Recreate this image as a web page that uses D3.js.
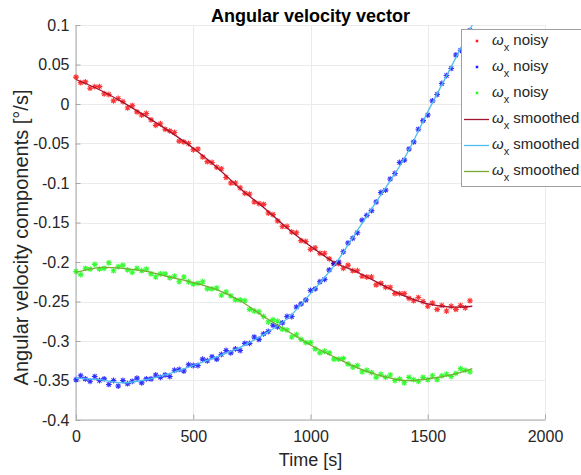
<!DOCTYPE html>
<html>
<head>
<meta charset="utf-8">
<script src="https://cdn.jsdelivr.net/npm/d3@7"></script>
<style>
  html, body { margin: 0; padding: 0; background: #fff; }
  svg { display: block; font-family: "Liberation Sans", Arial, Helvetica, sans-serif; }
</style>
</head>
<body>
<svg id="chart" width="581" height="475"></svg>
<script>
// ---------------- DATA ----------------
const timeNoisy = [0,20,40,60,80,100,120,140,160,180,200,220,240,260,280,300,320,340,360,380,400,420,440,460,480,500,520,540,560,580,600,620,640,660,680,700,720,740,760,780,800,820,840,860,880,900,920,940,960,980,1000,1020,1040,1060,1080,1100,1120,1140,1160,1180,1200,1220,1240,1260,1280,1300,1320,1340,1360,1380,1400,1420,1440,1460,1480,1500,1520,1540,1560,1580,1600,1620,1640,1660,1680];

const redNoisy = [0.034,0.027,0.028,0.020,0.022,0.022,0.013,0.012,0.004,0.007,0.003,-0.005,-0.002,-0.010,-0.014,-0.012,-0.020,-0.027,-0.025,-0.032,-0.034,-0.036,-0.047,-0.048,-0.050,-0.058,-0.057,-0.067,-0.073,-0.074,-0.080,-0.082,-0.093,-0.100,-0.100,-0.106,-0.113,-0.114,-0.124,-0.126,-0.127,-0.138,-0.140,-0.148,-0.155,-0.155,-0.162,-0.163,-0.173,-0.174,-0.184,-0.182,-0.189,-0.189,-0.196,-0.202,-0.202,-0.208,-0.204,-0.211,-0.211,-0.218,-0.219,-0.219,-0.229,-0.227,-0.232,-0.232,-0.240,-0.240,-0.240,-0.246,-0.249,-0.245,-0.250,-0.256,-0.252,-0.260,-0.255,-0.262,-0.256,-0.260,-0.255,-0.258,-0.249];

const blueNoisy = [-0.349,-0.344,-0.348,-0.351,-0.345,-0.350,-0.348,-0.355,-0.350,-0.357,-0.350,-0.354,-0.351,-0.347,-0.353,-0.348,-0.348,-0.343,-0.346,-0.343,-0.345,-0.337,-0.336,-0.338,-0.330,-0.331,-0.331,-0.323,-0.325,-0.320,-0.323,-0.317,-0.312,-0.315,-0.310,-0.312,-0.303,-0.303,-0.295,-0.298,-0.291,-0.288,-0.280,-0.282,-0.277,-0.269,-0.269,-0.257,-0.253,-0.248,-0.236,-0.234,-0.225,-0.222,-0.210,-0.202,-0.200,-0.187,-0.176,-0.170,-0.163,-0.147,-0.141,-0.135,-0.124,-0.112,-0.109,-0.095,-0.088,-0.074,-0.071,-0.057,-0.048,-0.032,-0.021,-0.014,0.004,0.012,0.026,0.036,0.045,0.062,0.068,0.083,0.093];

const greenNoisy = [-0.212,-0.216,-0.208,-0.209,-0.203,-0.209,-0.208,-0.201,-0.211,-0.206,-0.204,-0.210,-0.213,-0.208,-0.211,-0.209,-0.215,-0.219,-0.215,-0.215,-0.220,-0.218,-0.225,-0.219,-0.225,-0.228,-0.227,-0.225,-0.234,-0.234,-0.233,-0.242,-0.238,-0.243,-0.248,-0.248,-0.249,-0.260,-0.262,-0.263,-0.269,-0.276,-0.273,-0.275,-0.285,-0.286,-0.295,-0.292,-0.298,-0.302,-0.302,-0.310,-0.315,-0.313,-0.315,-0.323,-0.323,-0.322,-0.329,-0.333,-0.331,-0.339,-0.337,-0.340,-0.346,-0.342,-0.346,-0.343,-0.350,-0.348,-0.353,-0.346,-0.349,-0.351,-0.346,-0.349,-0.344,-0.349,-0.344,-0.342,-0.345,-0.341,-0.335,-0.337,-0.339];

const timeSmooth = [0,100,200,300,400,500,600,700,800,900,1000,1100,1200,1300,1400,1500,1600,1690];
const redSmooth   = [0.031,0.018,0.002,-0.016,-0.035,-0.056,-0.080,-0.107,-0.131,-0.157,-0.180,-0.200,-0.213,-0.228,-0.243,-0.253,-0.257,-0.256];
const blueSmooth  = [-0.347,-0.349,-0.353,-0.349,-0.341,-0.331,-0.320,-0.308,-0.292,-0.272,-0.240,-0.205,-0.160,-0.115,-0.069,-0.010,0.047,0.100];
const greenSmooth = [-0.213,-0.207,-0.208,-0.212,-0.219,-0.226,-0.235,-0.249,-0.269,-0.287,-0.305,-0.320,-0.334,-0.344,-0.350,-0.348,-0.343,-0.335];

const xTicks = [0,500,1000,1500,2000];
const xTickLabels = ["0","500","1000","1500","2000"];
const yTicks = [0.1,0.05,0,-0.05,-0.1,-0.15,-0.2,-0.25,-0.3,-0.35,-0.4];
const yTickLabels = ["0.1","0.05","0","-0.05","-0.1","-0.15","-0.2","-0.25","-0.3","-0.35","-0.4"];

const legendLabels = ["noisy","noisy","noisy","smoothed","smoothed","smoothed"];
const titleText = "Angular velocity vector";
const xLabelText = "Time [s]";
const yLabelText = "Angular velocity components [°/s]";

// ---------------- STYLE / LAYOUT ----------------
const noisyColors = ["#ff0000","#0000ff","#00ff00"];
const smoothColors = ["#a2142f","#4dbeee","#77ac30"];
const plotL = 76, plotR = 545, plotT = 25, plotB = 420;
const axisColor = "#a8a8a8", gridColor = "#ebebeb", textColor = "#262626";

const svg = d3.select("#chart");
const x = d3.scaleLinear().domain([0,2000]).range([plotL, plotR]);
const y = d3.scaleLinear().domain([-0.4,0.1]).range([plotB, plotT]);

// grid
const grid = svg.append("g");
grid.selectAll("line.gx").data(xTicks).join("line")
  .attr("x1", d => Math.round(x(d)) + 0.5).attr("x2", d => Math.round(x(d)) + 0.5)
  .attr("y1", plotT).attr("y2", plotB)
  .attr("stroke", gridColor).attr("stroke-width", 1);
grid.selectAll("line.gy").data(yTicks).join("line")
  .attr("y1", d => Math.round(y(d)) + 0.5).attr("y2", d => Math.round(y(d)) + 0.5)
  .attr("x1", plotL).attr("x2", plotR)
  .attr("stroke", gridColor).attr("stroke-width", 1);

// axes
const xAxis = d3.axisBottom(x).tickValues(xTicks)
  .tickFormat((d,i) => xTickLabels[i]).tickSizeInner(-5).tickSizeOuter(0).tickPadding(11);
const yAxis = d3.axisLeft(y).tickValues(yTicks)
  .tickFormat((d,i) => yTickLabels[i]).tickSizeInner(-5).tickSizeOuter(0).tickPadding(6);

const gx = svg.append("g").attr("transform", `translate(0,${plotB - 0.5})`).call(xAxis);
const gy = svg.append("g").attr("transform", `translate(${plotL - 0.5},0)`).call(yAxis);
[gx, gy].forEach(g => {
  g.select(".domain").attr("stroke", axisColor).attr("stroke-width", 1);
  g.selectAll(".tick line").attr("stroke", axisColor);
  g.selectAll(".tick text").attr("fill", textColor)
    .attr("font-size", 16).attr("font-family", "'Liberation Sans', Arial, sans-serif");
});

// asterisk marker
function asterisk(r) {
  const k = r * 0.72;
  return `M${-r},0H${r}M0,${-r}V${r}M${-k},${-k}L${k},${k}M${-k},${k}L${k},${-k}`;
}

const noisySeries = [redNoisy, blueNoisy, greenNoisy];
const smoothSeries = [redSmooth, blueSmooth, greenSmooth];

const marks = svg.append("g");
noisySeries.forEach((vals, s) => {
  marks.append("g").selectAll("path").data(vals).join("path")
    .attr("transform", (d,i) => `translate(${x(timeNoisy[i])},${y(d)})`)
    .attr("d", asterisk(2.9))
    .attr("fill", "none")
    .attr("stroke", noisyColors[s])
    .attr("stroke-width", 1.1)
    .attr("opacity", 0.8);
});

const line = d3.line().x((d,i) => x(timeSmooth[i])).y(d => y(d)).curve(d3.curveCatmullRom.alpha(0.5));
smoothSeries.forEach((vals, s) => {
  marks.append("path").datum(vals)
    .attr("d", line)
    .attr("fill", "none")
    .attr("stroke", smoothColors[s])
    .attr("stroke-width", 1.3);
});

// title & labels
svg.append("text").attr("x", (plotL + plotR) / 2).attr("y", 21.5)
  .attr("text-anchor", "middle").attr("font-weight", "bold").attr("font-size", 18)
  .attr("fill", "#000").text(titleText);
svg.append("text").attr("x", (plotL + plotR) / 2).attr("y", 466)
  .attr("text-anchor", "middle").attr("font-size", 18).attr("fill", textColor).text(xLabelText);
svg.append("text").attr("transform", `translate(28,${(plotT + plotB) / 2 + 15}) rotate(-90)`)
  .attr("text-anchor", "middle").attr("font-size", 20).attr("fill", textColor).text(yLabelText);

// legend
const leg = svg.append("g");
leg.append("rect").attr("x", 461.5).attr("y", 29.5).attr("width", 140).attr("height", 157)
  .attr("fill", "#fff").attr("stroke", "#a0a0a0").attr("stroke-width", 1);
const rowY = [41, 67, 93, 119, 145, 171];
legendLabels.forEach((lab, i) => {
  const cy = rowY[i];
  if (i < 3) {
    leg.append("path").attr("transform", `translate(477,${cy})`).attr("d", asterisk(1.6))
      .attr("fill", "none").attr("stroke", noisyColors[i]).attr("stroke-width", 0.9).attr("opacity", 0.8);
  } else {
    leg.append("line").attr("x1", 464).attr("x2", 489).attr("y1", cy + 0.5).attr("y2", cy + 0.5)
      .attr("stroke", smoothColors[i - 3]).attr("stroke-width", 1.3);
  }
  const t = leg.append("text").attr("x", 492).attr("y", cy + 4).attr("font-size", 15).attr("fill", textColor);
  t.append("tspan").attr("font-style", "italic").text("ω");
  t.append("tspan").attr("font-size", 11).attr("dy", 6).text("x");
  t.append("tspan").attr("dy", -6).text(" " + lab);
});
</script>
</body>
</html>
